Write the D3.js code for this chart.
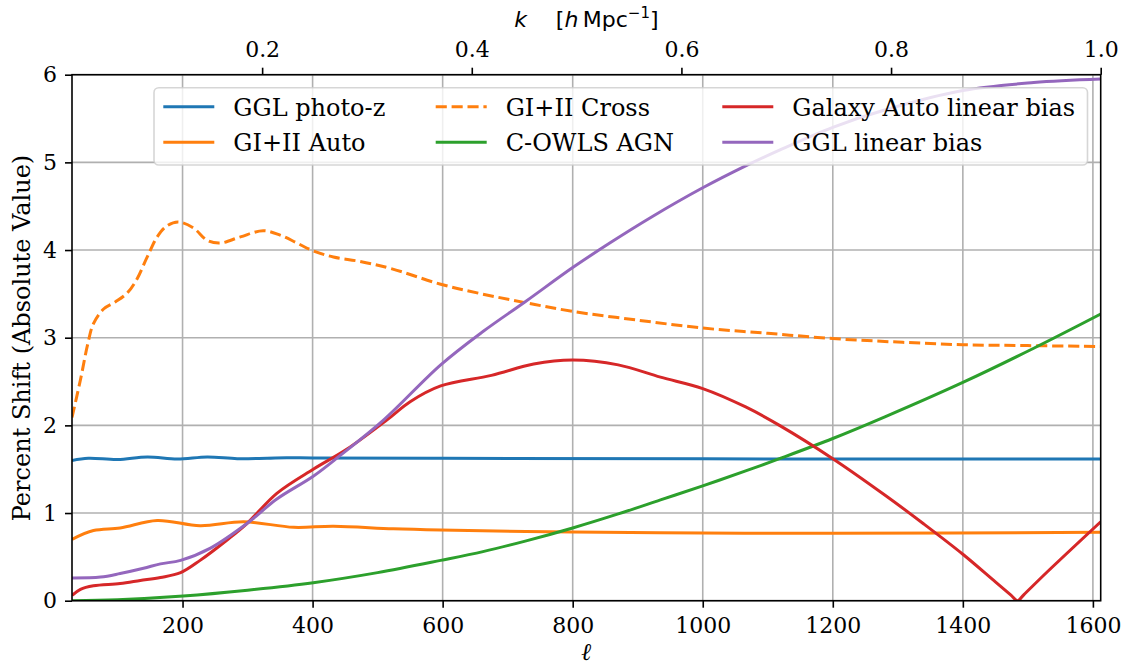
<!DOCTYPE html>
<html>
<head>
<meta charset="utf-8">
<script src="https://cdn.jsdelivr.net/npm/d3@7"></script>
<style>
  body { margin: 0; background: #fff; }
  text { font-family: "DejaVu Serif", serif; }
</style>
</head>
<body>
<svg id="chart" width="1131" height="666"></svg>
<script>
// tick values
const ellTicks = [200, 400, 600, 800, 1000, 1200, 1400, 1600];
const yTicks = [0, 1, 2, 3, 4, 5, 6];
const kTicks = [0.2, 0.4, 0.6, 0.8, 1.0];

// series (ell, percent shift)
const gglPhotozEll = [30, 55, 100, 146, 192, 238, 284, 330, 360, 400, 600, 1000, 1612];
const gglPhotozVal = [1.60, 1.625, 1.61, 1.64, 1.615, 1.64, 1.62, 1.625, 1.63, 1.628, 1.624, 1.618, 1.616];

const giAutoEll = [30, 63, 104, 161, 227, 294, 371, 432, 524, 597, 800, 1000, 1200, 1612];
const giAutoVal = [0.70, 0.80, 0.83, 0.915, 0.855, 0.90, 0.837, 0.85, 0.82, 0.806, 0.783, 0.773, 0.768, 0.78];

const giCrossEll = [30, 43, 54, 63, 79, 97, 115, 130, 145, 161, 175, 193, 217, 238, 258, 289, 324, 350, 376, 401, 432, 473, 520, 597, 660, 727, 800, 900, 1000, 1100, 1200, 1300, 1400, 1500, 1612];
const giCrossVal = [2.09, 2.52, 2.92, 3.16, 3.33, 3.41, 3.51, 3.67, 3.91, 4.15, 4.27, 4.32, 4.25, 4.11, 4.08, 4.15, 4.22, 4.17, 4.08, 3.99, 3.92, 3.87, 3.79, 3.61, 3.50, 3.40, 3.30, 3.20, 3.11, 3.05, 2.99, 2.95, 2.92, 2.91, 2.90];

const cowlsEll = [30, 100, 201, 300, 401, 500, 597, 662, 727, 800, 870, 935, 1000, 1066, 1118, 1200, 1281, 1400, 1509, 1612];
const cowlsVal = [0.0, 0.012, 0.054, 0.12, 0.205, 0.32, 0.46, 0.56, 0.68, 0.83, 0.99, 1.15, 1.31, 1.48, 1.62, 1.85, 2.10, 2.49, 2.88, 3.27];

const galAutoEll = [30, 43, 63, 104, 135, 166, 197, 227, 268, 299, 345, 401, 453, 514, 550, 597, 675, 740, 800, 870, 935, 1000, 1066, 1118, 1200, 1281, 1340, 1400, 1450, 1474, 1484, 1494, 1530, 1612];
const galAutoVal = [0.06, 0.13, 0.17, 0.195, 0.23, 0.265, 0.32, 0.46, 0.69, 0.88, 1.225, 1.50, 1.73, 2.06, 2.27, 2.45, 2.57, 2.70, 2.745, 2.69, 2.55, 2.42, 2.21, 2.00, 1.62, 1.20, 0.875, 0.53, 0.215, 0.064, 0.0, 0.07, 0.33, 0.90];

const gglBiasEll = [30, 74, 104, 140, 166, 197, 243, 299, 345, 401, 443, 509, 597, 662, 727, 800, 857, 922, 1000, 1066, 1118, 1200, 1281, 1400, 1509, 1612];
const gglBiasVal = [0.26, 0.27, 0.31, 0.37, 0.42, 0.46, 0.60, 0.88, 1.16, 1.42, 1.66, 2.06, 2.69, 3.07, 3.41, 3.80, 4.08, 4.38, 4.71, 4.96, 5.14, 5.40, 5.60, 5.82, 5.91, 5.95];

const seriesNames = ["GGL photo-z", "GI+II Auto", "GI+II Cross", "C-OWLS AGN", "Galaxy Auto linear bias", "GGL linear bias"];
const seriesColors = ["#1f77b4", "#ff7f0e", "#ff7f0e", "#2ca02c", "#d62728", "#9467bd"];
const seriesDash = [null, null, "11.1,4.8", null, null, null];
const seriesEll = [gglPhotozEll, giAutoEll, giCrossEll, cowlsEll, galAutoEll, gglBiasEll];
const seriesVal = [gglPhotozVal, giAutoVal, giCrossVal, cowlsVal, galAutoVal, gglBiasVal];

const pLeft = 72, pRight = 1100.7, pTop = 74.7, pBottom = 600.7;
const ellMin = 30, ellMax = 1612;

const svg = d3.select("#chart");

const x = d3.scaleLinear().domain([ellMin, ellMax]).range([pLeft, pRight]);
const xk = d3.scaleLinear().domain([ellMin / ellMax, 1]).range([pLeft, pRight]);
const y = d3.scaleLinear().domain([0, 6]).range([pBottom, pTop]);

// grid
const grid = svg.append("g");
grid.selectAll("line.gx").data(ellTicks).enter().append("line")
  .attr("x1", d => x(d)).attr("x2", d => x(d))
  .attr("y1", pTop).attr("y2", pBottom)
  .attr("stroke", "#b0b0b0").attr("stroke-width", 1.6);
grid.selectAll("line.gy").data(yTicks).enter().append("line")
  .attr("x1", pLeft).attr("x2", pRight)
  .attr("y1", d => y(d)).attr("y2", d => y(d))
  .attr("stroke", "#b0b0b0").attr("stroke-width", 1.6);

// lines
svg.append("clipPath").attr("id", "clip").append("rect")
  .attr("x", pLeft).attr("y", pTop).attr("width", pRight - pLeft).attr("height", pBottom - pTop);

const line = d3.line()
  .x(d => x(d[0]))
  .y(d => y(d[1]))
  .curve(d3.curveCatmullRom.alpha(0.5));

const lines = svg.append("g").attr("clip-path", "url(#clip)");
seriesNames.forEach((name, i) => {
  const pts = seriesEll[i].map((e, j) => [e, seriesVal[i][j]]);
  lines.append("path")
    .datum(pts)
    .attr("d", line)
    .attr("fill", "none")
    .attr("stroke", seriesColors[i])
    .attr("stroke-width", 3)
    .attr("stroke-dasharray", seriesDash[i]);
});

// axes
function styleAxis(g, size) {
  g.select(".domain").remove();
  g.selectAll(".tick line").attr("stroke", "#000").attr("stroke-width", 1.6);
  g.selectAll(".tick text").attr("fill", "#000")
    .style("font-family", "DejaVu Serif").style("font-size", size + "px");
}

svg.append("g")
  .attr("transform", `translate(0,${pBottom})`)
  .call(d3.axisBottom(x).tickValues(ellTicks).tickSize(7).tickPadding(10).tickFormat(d3.format("d")))
  .call(g => styleAxis(g, 22));

svg.append("g")
  .attr("transform", `translate(${pLeft},0)`)
  .call(d3.axisLeft(y).tickValues(yTicks).tickSize(7).tickPadding(8).tickFormat(d3.format("d")))
  .call(g => styleAxis(g, 22));

svg.append("g")
  .attr("transform", `translate(0,${pTop})`)
  .call(d3.axisTop(xk).tickValues(kTicks).tickSize(7).tickPadding(11).tickFormat(d3.format(".1f")))
  .call(g => styleAxis(g, 22));

// spines
svg.append("rect")
  .attr("x", pLeft).attr("y", pTop).attr("width", pRight - pLeft).attr("height", pBottom - pTop)
  .attr("fill", "none").attr("stroke", "#000").attr("stroke-width", 1.6);

// labels
svg.append("text")
  .attr("x", (pLeft + pRight) / 2).attr("y", 660)
  .attr("text-anchor", "middle")
  .style("font-size", "24px").style("font-style", "italic")
  .text("ℓ");

svg.append("text")
  .attr("transform", "translate(30,338) rotate(-90)")
  .attr("text-anchor", "middle")
  .style("font-size", "24px")
  .text("Percent Shift (Absolute Value)");

const kLabel = svg.append("text")
  .attr("x", (pLeft + pRight) / 2).attr("y", 27)
  .attr("text-anchor", "middle")
  .style("font-family", "DejaVu Sans").style("font-size", "22px");
kLabel.append("tspan").style("font-style", "italic").text("k");
kLabel.append("tspan").text("\u2003 [");
kLabel.append("tspan").style("font-style", "italic").text("h");
kLabel.append("tspan").text("\u2009Mpc");
kLabel.append("tspan").attr("dy", -9).style("font-size", "15px").text("−1");
kLabel.append("tspan").attr("dy", 9).text("]");

// legend
const legend = svg.append("g");
legend.append("rect")
  .attr("x", 154).attr("y", 87.7).attr("width", 1087.5 - 154).attr("height", 165 - 87.7)
  .attr("rx", 4.8).attr("ry", 4.8)
  .attr("fill", "#fff").attr("fill-opacity", 0.8)
  .attr("stroke", "#cccccc").attr("stroke-opacity", 0.8).attr("stroke-width", 1.6);

const colX = [163.3, 435.7, 722.3];
const rowY = [106.7, 142.3];
seriesNames.forEach((name, idx) => {
  const c = Math.floor(idx / 2), r = idx % 2;
  const lx = colX[c], ly = rowY[r];
  legend.append("line")
    .attr("x1", lx).attr("x2", lx + 51)
    .attr("y1", ly).attr("y2", ly)
    .attr("stroke", seriesColors[idx]).attr("stroke-width", 3)
    .attr("stroke-dasharray", seriesDash[idx]);
  legend.append("text")
    .attr("x", lx + 70).attr("y", ly + 9)
    .style("font-size", "24px")
    .text(name);
});
</script>
</body>
</html>
